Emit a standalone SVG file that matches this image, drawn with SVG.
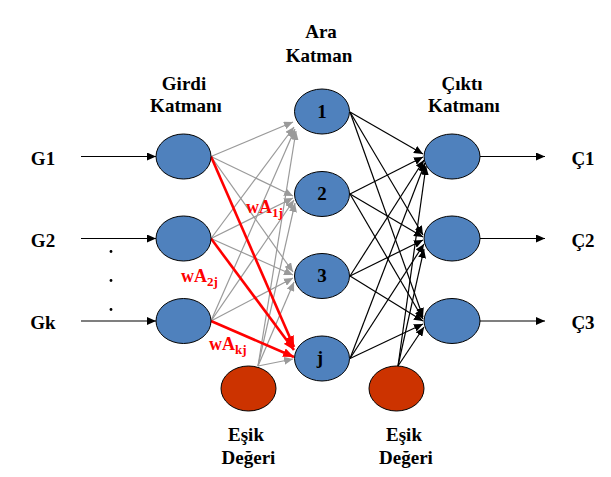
<svg xmlns="http://www.w3.org/2000/svg" width="611" height="477" viewBox="0 0 611 477">
<defs>
<style>
.t{font-weight:bold;font-size:19px;fill:#000;text-anchor:middle}
.w{font-weight:bold;font-size:18px;fill:#FF0000}
.s{font-size:13px}
.n{fill:#4F81BD;stroke:#000;stroke-width:1}
.b{fill:#CC3300;stroke:#000;stroke-width:1}
.k{stroke:#000;stroke-width:1.2;fill:none;marker-end:url(#ak)}
.g{stroke:#9A9A9A;stroke-width:1.2;fill:none;marker-end:url(#ag)}
.r{stroke:#FF0000;stroke-width:2.6;fill:none;marker-end:url(#ar)}
</style>
<marker id="ak" markerUnits="userSpaceOnUse" markerWidth="9" markerHeight="8" refX="9" refY="4" orient="auto"><path d="M0,0 L9,4 L0,8 z" fill="#000"/></marker>
<marker id="ag" markerUnits="userSpaceOnUse" markerWidth="9" markerHeight="8" refX="9" refY="4" orient="auto"><path d="M0,0 L9,4 L0,8 z" fill="#9A9A9A"/></marker>
<marker id="ar" markerUnits="userSpaceOnUse" markerWidth="11" markerHeight="9" refX="11" refY="4.5" orient="auto"><path d="M0,0 L11,4.5 L0,9 z" fill="#FF0000"/></marker>
</defs>
<rect width="611" height="477" fill="#fff"/>
<g id="connectors">
<g id="input-arrows">
<line class="k" x1="81" y1="156.5" x2="156" y2="156.5"/>
<line class="k" x1="81" y1="238.5" x2="156" y2="238.5"/>
<line class="k" x1="81" y1="321" x2="156" y2="321"/>
</g>
<g id="output-arrows">
<line class="k" x1="480" y1="156.5" x2="545" y2="156.5"/>
<line class="k" x1="480" y1="238.5" x2="545" y2="238.5"/>
<line class="k" x1="480" y1="321" x2="545" y2="321"/>
</g>
<g id="gray">
<line class="g" x1="211" y1="156.5" x2="293" y2="122"/>
<line class="g" x1="211" y1="156.5" x2="293" y2="196"/>
<line class="g" x1="211" y1="156.5" x2="293" y2="272"/>
<line class="g" x1="211" y1="238.5" x2="294" y2="127"/>
<line class="g" x1="211" y1="238.5" x2="293" y2="198"/>
<line class="g" x1="211" y1="238.5" x2="293" y2="275"/>
<line class="g" x1="211" y1="321" x2="295" y2="129"/>
<line class="g" x1="211" y1="321" x2="294" y2="200"/>
<line class="g" x1="211" y1="321" x2="293" y2="278"/>
<line class="g" x1="258" y1="366" x2="296" y2="131"/>
<line class="g" x1="258" y1="366" x2="295" y2="203"/>
<line class="g" x1="258" y1="366" x2="294" y2="282"/>
<line class="g" x1="258" y1="366" x2="293" y2="359"/>
</g>
<g id="red">
<line class="r" x1="211" y1="156.5" x2="294" y2="347"/>
<line class="r" x1="211" y1="238.5" x2="294" y2="350"/>
<line class="r" x1="211" y1="321" x2="294" y2="357"/>
</g>
<g id="black">
<line class="k" x1="350" y1="112" x2="423" y2="154"/>
<line class="k" x1="350" y1="194" x2="423" y2="157"/>
<line class="k" x1="350" y1="276" x2="424" y2="160"/>
<line class="k" x1="350" y1="358.5" x2="425" y2="163"/>
<line class="k" x1="398" y1="366" x2="426" y2="166"/>
<line class="k" x1="350" y1="112" x2="423" y2="235"/>
<line class="k" x1="350" y1="194" x2="423" y2="237"/>
<line class="k" x1="350" y1="276" x2="423" y2="240"/>
<line class="k" x1="350" y1="358.5" x2="424" y2="244"/>
<line class="k" x1="398" y1="366" x2="424" y2="249"/>
<line class="k" x1="350" y1="112" x2="423" y2="317"/>
<line class="k" x1="350" y1="194" x2="423" y2="319"/>
<line class="k" x1="350" y1="276" x2="423" y2="321"/>
<line class="k" x1="350" y1="358.5" x2="423" y2="324"/>
<line class="k" x1="398" y1="366" x2="424" y2="327"/>
</g>
</g>
<g font-family="'Liberation Serif', 'Times New Roman', 'DejaVu Serif', serif">
<g id="input1"><ellipse class="n" cx="183.5" cy="156.5" rx="27.5" ry="22.5"/></g>
<g id="input2"><ellipse class="n" cx="183.5" cy="238.5" rx="27.5" ry="22.5"/></g>
<g id="inputk"><ellipse class="n" cx="183.5" cy="321" rx="27.5" ry="22.5"/></g>
<g id="bias1"><ellipse class="b" cx="248.5" cy="388.5" rx="27.5" ry="22.5"/></g>
<g id="hidden1"><ellipse class="n" cx="322" cy="111.5" rx="27.5" ry="22.5"/><text class="t" x="322" y="118">1</text></g>
<g id="hidden2"><ellipse class="n" cx="322" cy="194" rx="27.5" ry="22.5"/><text class="t" x="322" y="200">2</text></g>
<g id="hidden3"><ellipse class="n" cx="322" cy="276" rx="27.5" ry="22.5"/><text class="t" x="322" y="282">3</text></g>
<g id="hiddenj"><ellipse class="n" cx="322" cy="358.5" rx="27.5" ry="22.5"/><text class="t" x="320" y="364">j</text></g>
<g id="bias2"><ellipse class="b" cx="396.5" cy="388.5" rx="27.5" ry="22.5"/></g>
<g id="output1"><ellipse class="n" cx="452" cy="156.5" rx="28" ry="22.5"/></g>
<g id="output2"><ellipse class="n" cx="452" cy="238.5" rx="28" ry="22.5"/></g>
<g id="output3"><ellipse class="n" cx="452" cy="321" rx="28" ry="22.5"/></g>
<g id="labels">
<text class="t" x="184" y="90">Girdi</text>
<text class="t" x="186" y="112">Katmanı</text>
<text class="t" x="321" y="38">Ara</text>
<text class="t" x="319" y="62">Katman</text>
<text class="t" x="462" y="90">Çıktı</text>
<text class="t" x="464" y="112">Katmanı</text>
<text class="t" x="43" y="165">G1</text>
<text class="t" x="43" y="247">G2</text>
<text class="t" x="43" y="329">Gk</text>
<text class="t" x="583" y="165">Ç1</text>
<text class="t" x="583" y="247">Ç2</text>
<text class="t" x="583" y="329">Ç3</text>
<text class="t" x="246" y="441">Eşik</text>
<text class="t" x="248.5" y="464">Değeri</text>
<text class="t" x="404" y="441">Eşik</text>
<text class="t" x="406" y="464">Değeri</text>
<circle cx="111" cy="251.5" r="1.4" fill="#000"/>
<circle cx="111" cy="280.5" r="1.4" fill="#000"/>
<circle cx="111" cy="309.5" r="1.4" fill="#000"/>
<text class="w" x="246" y="213">wA<tspan class="s" dy="4">1j</tspan></text>
<text class="w" x="181" y="282">wA<tspan class="s" dy="4">2j</tspan></text>
<text class="w" x="209" y="350">wA<tspan class="s" dy="4">kj</tspan></text>
</g>
</g>
</svg>
